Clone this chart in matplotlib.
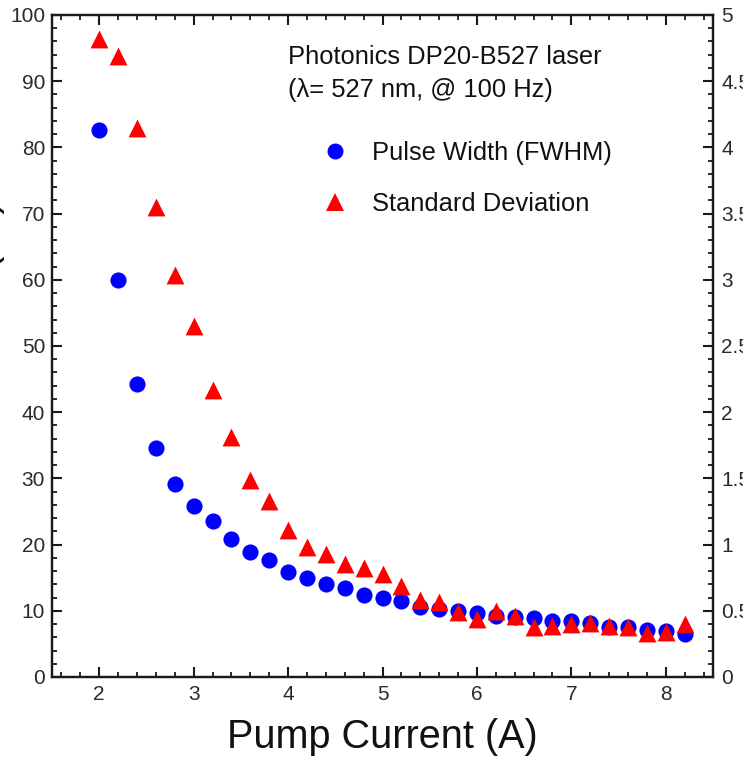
import matplotlib
matplotlib.use("Agg")
import matplotlib.pyplot as plt
from matplotlib.ticker import MultipleLocator, FuncFormatter
from matplotlib.lines import Line2D

plt.rcParams['font.family'] = ['Liberation Sans', 'DejaVu Sans']

# Data
current = [2.0, 2.2, 2.4, 2.6, 2.8, 3.0, 3.2, 3.4, 3.6, 3.8, 4.0, 4.2, 4.4, 4.6, 4.8, 5.0,
           5.2, 5.4, 5.6, 5.8, 6.0, 6.2, 6.4, 6.6, 6.8, 7.0, 7.2, 7.4, 7.6, 7.8, 8.0, 8.2]
pulse_width = [82.7, 59.9, 44.2, 34.6, 29.2, 25.9, 23.5, 20.9, 18.9, 17.6, 15.8, 15.0, 14.0, 13.4,
               12.4, 12.0, 11.5, 10.6, 10.2, 10.0, 9.6, 9.2, 9.1, 8.9, 8.5, 8.4, 8.1, 7.6, 7.5,
               7.1, 7.0, 6.5]
std_dev = [4.82, 4.69, 4.15, 3.55, 3.04, 2.65, 2.17, 1.81, 1.49, 1.33, 1.11, 0.98, 0.93, 0.85,
           0.82, 0.78, 0.69, 0.58, 0.57, 0.49, 0.44, 0.50, 0.46, 0.38, 0.385, 0.40, 0.41,
           0.385, 0.375, 0.335, 0.34, 0.40]

title_lines = ["Photonics DP20-B527 laser", "(\u03bb= 527 nm, @ 100 Hz)"]
series_labels = ["Pulse Width (FWHM)", "Standard Deviation"]
x_label = "Pump Current (A)"
y_label = "Pulse Width (ns)"

W, H = 743, 757
fig = plt.figure(figsize=(W / 100, H / 100), dpi=100)
ax = fig.add_axes([52 / W, 1 - 677 / H, (713 - 52) / W, (677 - 15) / H])
ax2 = ax.twinx()

tick_color = '#2a2a2a'
ax.scatter(current, pulse_width, s=135, color='#0000ff', marker='o', linewidths=0, zorder=3)
ax2.scatter(current, std_dev, s=165, color='#ff0000', marker='^', linewidths=0, zorder=3)

ax.set_xlim(1.5, 8.5)
ax.set_ylim(0, 100)
ax2.set_ylim(0, 5)

ax.xaxis.set_major_locator(MultipleLocator(1))
ax.xaxis.set_minor_locator(MultipleLocator(0.2))
ax.yaxis.set_major_locator(MultipleLocator(10))
ax.yaxis.set_minor_locator(MultipleLocator(2))
ax2.yaxis.set_major_locator(MultipleLocator(0.5))
ax2.yaxis.set_minor_locator(MultipleLocator(0.1))
ax2.yaxis.set_major_formatter(FuncFormatter(lambda v, p: f"{v:g}"))

for a in (ax, ax2):
    for s in a.spines.values():
        s.set_linewidth(1.6)
        s.set_color('#1a1a1a')

ax.tick_params(axis='both', which='major', direction='in', length=7, width=1.5,
               labelsize=15, labelcolor=tick_color, color='#1a1a1a', top=True, right=False)
ax.tick_params(axis='both', which='minor', direction='in', length=3.5, width=1.3,
               color='#1a1a1a', top=True, right=False)
ax.tick_params(axis='y', which='major', pad=5)
ax.tick_params(axis='x', which='major', pad=6)
ax2.tick_params(axis='y', which='major', direction='in', length=7, width=1.5,
                labelsize=15, labelcolor=tick_color, color='#1a1a1a', pad=6)
ax2.tick_params(axis='y', which='minor', direction='in', length=3.5, width=1.3, color='#1a1a1a')

ax.set_xlabel(x_label, fontsize=28.5, color='#111111', labelpad=10)
fig.text(5 / W, 1 - 200 / H, y_label, rotation=90, ha='right', va='top',
         fontsize=28.5, color='#111111')

for i, (line, ypx) in enumerate(zip(title_lines, [57, 90])):
    fig.text(288 / W, 1 - ypx / H, line, ha='left', va='center', fontsize=18.4,
             color='#111111')

handles = [Line2D([], [], marker='o', linestyle='none', color='#0000ff', markersize=11.5,
                  markeredgewidth=0),
           Line2D([], [], marker='^', linestyle='none', color='#ff0000', markersize=12.5,
                  markeredgewidth=0)]
ax2.legend(handles, series_labels, loc='upper left', frameon=False, fontsize=18.4,
           bbox_to_anchor=(304 / W, 1 - 128 / H), bbox_transform=fig.transFigure,
           handletextpad=0.78, labelspacing=1.08, borderpad=0, handlelength=1.4,
           labelcolor='#111111')

fig.savefig("out.png", dpi=100)
